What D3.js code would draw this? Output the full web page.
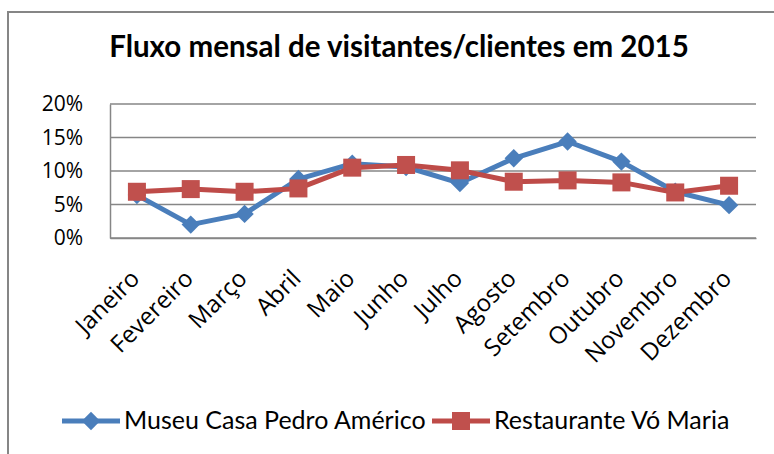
<!DOCTYPE html>
<html>
<head>
<meta charset="utf-8">
<script src="https://cdn.jsdelivr.net/npm/d3@7"></script>
<style>
  body { margin: 0; background: #fff; }
  text { fill: #000; }
</style>
</head>
<body>
<div id="chart"></div>
<script>
// Chart data
const months = ["Janeiro", "Fevereiro", "Março", "Abril", "Maio", "Junho",
  "Julho", "Agosto", "Setembro", "Outubro", "Novembro", "Dezembro"];
const museu = [6.4, 2.0, 3.6, 8.8, 11.1, 10.6, 8.2, 11.9, 14.4, 11.4, 6.9, 4.9];
const restaurante = [6.9, 7.3, 6.9, 7.4, 10.5, 10.9, 10.1, 8.4, 8.6, 8.3, 6.8, 7.8];
const yTicks = [0, 5, 10, 15, 20];
const seriesNames = ["Museu Casa Pedro Américo", "Restaurante Vó Maria"];

const width = 774;
const height = 454;
const plot = { left: 110, right: 756, top: 104, bottom: 238 };

const svg = d3.select("#chart")
  .append("svg")
  .attr("width", width)
  .attr("height", height);

// outer chart border (runs off the right and bottom edges)
svg.append("rect")
  .attr("x", 8)
  .attr("y", 12)
  .attr("width", 800)
  .attr("height", 480)
  .attr("fill", "#fff")
  .attr("stroke", "#868686")
  .attr("stroke-width", 2);

svg.append("text")
  .attr("x", 399)
  .attr("y", 57)
  .attr("text-anchor", "middle")
  .style("font-family", "Lato, 'Open Sans', sans-serif")
  .style("font-weight", "bold")
  .style("font-size", "29.5px")
  .text("Fluxo mensal de visitantes/clientes em 2015");

// scales
const x = d3.scaleBand()
  .domain(months)
  .range([plot.left, plot.right]);

const y = d3.scaleLinear()
  .domain([0, 20])
  .range([plot.bottom, plot.top]);

// gridlines
svg.append("g")
  .selectAll("line")
  .data(yTicks)
  .join("line")
  .attr("x1", plot.left)
  .attr("x2", plot.right)
  .attr("y1", d => y(d))
  .attr("y2", d => y(d))
  .attr("stroke", "#868686")
  .attr("stroke-width", 1.5);

// y axis
const yAxis = svg.append("g")
  .attr("transform", `translate(${plot.left}, 0)`)
  .call(d3.axisLeft(y).tickValues(yTicks).tickFormat(d => d + "%").tickSize(0).tickPadding(27));
yAxis.select(".domain").attr("stroke", "#868686").attr("stroke-width", 1.5);
yAxis.selectAll("text")
  .style("font-family", "'Open Sans', sans-serif")
  .style("font-size", "21px")
  .attr("fill", "#000");

// x axis labels
const xAxis = svg.append("g")
  .attr("transform", `translate(0, ${plot.bottom})`)
  .call(d3.axisBottom(x).tickSize(0).tickFormat(""));
xAxis.select(".domain").attr("stroke", "#868686").attr("stroke-width", 1.5);

svg.append("g")
  .selectAll("text")
  .data(months)
  .join("text")
  .attr("transform", d => `translate(${x(d) + x.bandwidth() / 2 + 4}, ${plot.bottom + 42}) rotate(-45)`)
  .attr("text-anchor", "end")
  .style("font-family", "'Open Sans', sans-serif")
  .style("font-size", "24px")
  .text(d => d);

// lines
const line = d3.line()
  .x((d, i) => x(months[i]) + x.bandwidth() / 2)
  .y(d => y(d));

const blue = "#4A7EBB";
const red = "#BE4B48";
const diamond = "M-6.5,-6.5H6.5V6.5H-6.5Z";

svg.append("path")
  .datum(museu)
  .attr("fill", "none")
  .attr("stroke", blue)
  .attr("stroke-width", 5)
  .attr("stroke-linejoin", "round")
  .attr("d", line);

svg.append("g")
  .selectAll("path")
  .data(museu)
  .join("path")
  .attr("transform", (d, i) => `translate(${x(months[i]) + x.bandwidth() / 2}, ${y(d)}) rotate(45)`)
  .attr("d", diamond)
  .attr("fill", blue);

svg.append("path")
  .datum(restaurante)
  .attr("fill", "none")
  .attr("stroke", red)
  .attr("stroke-width", 5)
  .attr("stroke-linejoin", "round")
  .attr("d", line);

svg.append("g")
  .selectAll("rect")
  .data(restaurante)
  .join("rect")
  .attr("x", (d, i) => x(months[i]) + x.bandwidth() / 2 - 9)
  .attr("y", d => y(d) - 9)
  .attr("width", 18)
  .attr("height", 18)
  .attr("fill", "#C0504D");

// legend
const legendY = 421;
const legend = [
  { name: seriesNames[0], color: blue, x0: 62, tx: 124, marker: "diamond" },
  { name: seriesNames[1], color: red, x0: 432, tx: 494, marker: "square" }
];
legend.forEach(l => {
  svg.append("line")
    .attr("x1", l.x0).attr("x2", l.x0 + 58)
    .attr("y1", legendY).attr("y2", legendY)
    .attr("stroke", l.color).attr("stroke-width", 5);
  if (l.marker === "diamond") {
    svg.append("path")
      .attr("transform", `translate(${l.x0 + 29}, ${legendY}) rotate(45)`)
      .attr("d", diamond)
      .attr("fill", l.color);
  } else {
    svg.append("rect")
      .attr("x", l.x0 + 29 - 9).attr("y", legendY - 9)
      .attr("width", 18).attr("height", 18)
      .attr("fill", "#C0504D");
  }
  svg.append("text")
    .attr("x", l.tx)
    .attr("y", legendY + 8)
    .style("font-family", "Lato, 'Open Sans', sans-serif")
    .style("font-size", "25px")
    .text(l.name);
});
</script>
</body>
</html>
